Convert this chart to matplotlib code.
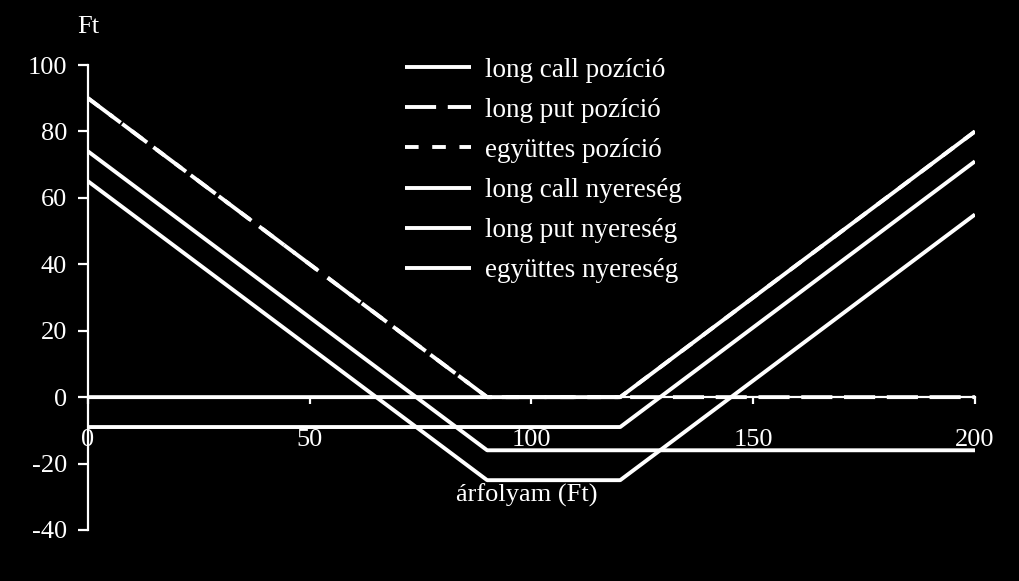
import matplotlib
matplotlib.use("Agg")
import matplotlib.pyplot as plt

x = [0, 90, 120, 200]
long_call_poz = [0, 0, 0, 80]
long_put_poz = [90, 0, 0, 0]
egyutt_poz = [90, 0, 0, 80]
long_call_ny = [-9, -9, -9, 71]
long_put_ny = [74, -16, -16, -16]
egyutt_ny = [65, -25, -25, 55]

labels = ["long call pozíció", "long put pozíció", "együttes pozíció",
          "long call nyereség", "long put nyereség", "együttes nyereség"]
series = [long_call_poz, long_put_poz, egyutt_poz, long_call_ny, long_put_ny, egyutt_ny]
styles = ["-", (0, (8, 3)), (0, (3.5, 3.5)), "-", "-", "-"]

plt.rcParams['font.family'] = ['Liberation Serif', 'DejaVu Serif']
plt.rcParams['axes.unicode_minus'] = False
fig = plt.figure(figsize=(10.2, 5.81), dpi=100, facecolor='black')
ax = fig.add_axes([88/1020, 1-530/581, (975-88)/1020, (530-65)/581])
ax.set_facecolor('black')

for ys, lab, ls in zip(series, labels, styles):
    ax.plot(x, ys, color='white', lw=2.8, linestyle=ls, label=lab, solid_capstyle='butt')

ax.set_xlim(0, 200)
ax.set_ylim(-40, 100)
ax.set_xticks([0, 50, 100, 150, 200])
ax.set_yticks(range(-40, 101, 20))
for s in ['top', 'right']:
    ax.spines[s].set_visible(False)
ax.spines['bottom'].set_position(('data', 0))
ax.spines['left'].set_color('white')
ax.spines['bottom'].set_color('white')
ax.spines['left'].set_linewidth(1.6)
ax.spines['bottom'].set_linewidth(1.6)
ax.tick_params(axis='y', colors='white', labelsize=19, length=7, width=1.6, direction='out', pad=8)
ax.tick_params(axis='x', colors='white', labelsize=19, length=5, width=1.6, direction='out', pad=18)

ax.text(-2.5, 108, "Ft", color='white', fontsize=19, ha='left', va='bottom', clip_on=False)
ax.text(99, -29.5, "árfolyam (Ft)", color='white', fontsize=19, ha='center', va='center')

leg = ax.legend(loc='upper left', bbox_to_anchor=(0.357, 1.016), frameon=False, fontsize=19.5,
                labelcolor='white', handlelength=2.45, labelspacing=0.56, handletextpad=0.5,
                borderpad=0, borderaxespad=0)

fig.savefig("out.png", dpi=100, facecolor='black')
